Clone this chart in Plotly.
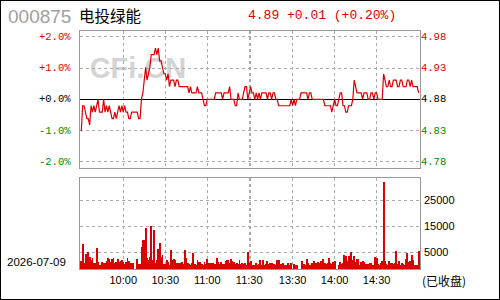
import plotly.graph_objects as go

# ---------------- data ----------------
stock_code = "000875"
stock_name = "电投绿能"
quote_text = "4.89 +0.01 (+0.20%)"
trade_date = "2026-07-09"
status_text = "(已收盘)"
base_price = 4.88  # previous close

# one price per trading minute (09:30-11:30, 13:00-15:00)
prices = [
    4.83, 4.87, 4.87, 4.86, 4.85, 4.85, 4.84, 4.87, 4.86, 4.87,
    4.86, 4.87, 4.88, 4.86, 4.86, 4.86, 4.88, 4.86, 4.87, 4.86,
    4.87, 4.86, 4.85, 4.85, 4.86, 4.85, 4.86, 4.87, 4.86, 4.87,
    4.86, 4.87, 4.86, 4.86, 4.85, 4.85, 4.86, 4.86, 4.86, 4.86,
    4.86, 4.85, 4.85, 4.88, 4.89, 4.91, 4.93, 4.91, 4.92, 4.93,
    4.95, 4.95, 4.95, 4.96, 4.95, 4.96, 4.94, 4.94, 4.93, 4.92,
    4.92, 4.91, 4.92, 4.90, 4.91, 4.91, 4.91, 4.90, 4.91, 4.91,
    4.90, 4.90, 4.90, 4.90, 4.90, 4.90, 4.90, 4.89, 4.90, 4.89,
    4.89, 4.89, 4.89, 4.90, 4.89, 4.89, 4.89, 4.88, 4.87, 4.87,
    4.88, 4.88, 4.88, 4.88, 4.88, 4.88, 4.89, 4.89, 4.89, 4.89,
    4.89, 4.88, 4.89, 4.89, 4.89, 4.89, 4.90, 4.88, 4.88, 4.88,
    4.87, 4.87, 4.89, 4.88, 4.88, 4.88, 4.89, 4.90, 4.90, 4.88,
    4.89, 4.90, 4.89, 4.89, 4.88, 4.89, 4.88, 4.89, 4.88, 4.89,
    4.89, 4.89, 4.89, 4.88, 4.89, 4.89, 4.88, 4.89, 4.89, 4.88,
    4.88, 4.87, 4.87, 4.87, 4.87, 4.87, 4.87, 4.87, 4.87, 4.87,
    4.88, 4.87, 4.88, 4.87, 4.88, 4.88, 4.88, 4.89, 4.89, 4.89,
    4.89, 4.89, 4.88, 4.89, 4.89, 4.88, 4.88, 4.88, 4.88, 4.88,
    4.88, 4.88, 4.88, 4.88, 4.87, 4.87, 4.87, 4.87, 4.87, 4.86,
    4.87, 4.88, 4.87, 4.87, 4.88, 4.89, 4.89, 4.87, 4.87, 4.86,
    4.86, 4.87, 4.87, 4.87, 4.88, 4.91, 4.90, 4.89, 4.89, 4.89,
    4.89, 4.88, 4.89, 4.89, 4.89, 4.88, 4.88, 4.89, 4.89, 4.88,
    4.89, 4.89, 4.88, 4.88, 4.88, 4.88, 4.92, 4.91, 4.90, 4.90,
    4.91, 4.90, 4.90, 4.91, 4.91, 4.91, 4.90, 4.90, 4.91, 4.91,
    4.90, 4.90, 4.90, 4.91, 4.91, 4.90, 4.91, 4.90, 4.90, 4.90,
    4.90, 4.89,
]

volumes = [
    3200, 9700, 2300, 5800, 5800, 6500, 4900, 3600, 4200, 2300,
    2300, 8200, 2700, 1700, 1700, 2700, 2300, 2300, 3200, 4200,
    3800, 3000, 3800, 4200, 2300, 3000, 3800, 3000, 3200, 3600,
    3000, 1900, 3000, 4200, 3200, 2300, 2300, 2300, 0, 0,
    4000, 1900, 1900, 8600, 11300, 11300, 15800, 4200, 3600, 4900,
    16700, 3600, 15100, 2300, 3600, 7800, 10000, 4900, 5500, 1900,
    1900, 3600, 3000, 1700, 7400, 3600, 4000, 3600, 2300, 2300,
    2300, 2300, 3000, 1900, 7400, 4200, 2300, 1900, 1700, 2300,
    6200, 1900, 1700, 3600, 3000, 2700, 1900, 1700, 2700, 1900,
    4000, 2300, 2300, 2300, 2300, 1900, 1900, 4500, 3000, 1900,
    3000, 1900, 1900, 3200, 3600, 3600, 2300, 4000, 3200, 3000,
    1900, 2300, 1900, 3600, 1900, 2300, 1900, 2300, 1700, 6500,
    2300, 3100, 1500, 1500, 1500, 2400, 1500, 2000, 3700, 1500,
    3700, 1500, 2000, 3300, 2000, 2400, 2400, 1500, 2000, 1500,
    3700, 3700, 1500, 2000, 2400, 1500, 1500, 1500, 2400, 1500,
    2400, 0, 2000, 1500, 1500, 0, 0, 0, 3300, 2000,
    1500, 4100, 2400, 1500, 1500, 2400, 3300, 2000, 2400, 2800,
    2400, 3100, 2000, 4100, 2400, 2000, 2400, 4300, 2400, 2000,
    2800, 3300, 0, 0, 1500, 2800, 2000, 2400, 5400, 5000,
    3300, 5000, 2400, 6700, 3700, 5000, 2800, 4000, 4000, 1500,
    2800, 3300, 2800, 2000, 2000, 2000, 2400, 2400, 1500, 1500,
    4600, 4300, 2000, 1500, 2400, 3100, 33600, 3300, 2000, 1500,
    3100, 2400, 2400, 2000, 2400, 6900, 2000, 3100, 1500, 2400,
    2000, 1500, 4100, 6300, 2800, 3100, 5400, 3700, 1500, 1500,
    1500, 7200,
]

time_tick_labels = ["10:00", "10:30", "11:00", "11:30", "13:00", "13:30", "14:00", "14:30"]
time_tick_shown = ["10:00", "10:30", "11:00", "11:30", "", "13:30", "14:00", "14:30"]

pct_ticks = [-2, -1, 0, 1, 2]
pct_labels = ["-2.0%", "-1.0%", "+0.0%", "+1.0%", "+2.0%"]
price_labels = ["4.78", "4.83", "4.88", "4.93", "4.98"]

vol_grid_vals = [6540, 16540, 26540]
vol_grid_labels = ["5000", "15000", "25000"]

# ---------------- derived ----------------
minutes = []
for h, m0, m1 in [(9, 30, 60), (10, 0, 60), (11, 0, 31), (13, 0, 60), (14, 0, 60), (15, 0, 1)]:
    for m in range(m0, m1):
        minutes.append(f"{h:02d}:{m:02d}")
idx = list(range(len(prices)))
pct = [(p / base_price - 1) * 100 for p in prices]
tick_idx = [minutes.index(t) for t in time_tick_labels]

RED = "#dd0000"
GREEN = "#008800"
GRID = "#aaaaaa"
FRAME = "#999999"
MONO = "Liberation Mono"
SANS = "Liberation Sans"
CJK = "Noto Sans CJK SC"


def lab_color(v):
    return RED if v > 0 else (GREEN if v < 0 else "black")


W, H = 500, 300
def px(x):
    return x / W
def py(y):
    return 1 - y / H

fig = go.Figure()
fig.add_trace(go.Scatter(x=idx, y=pct, mode="lines", line=dict(color=RED, width=1.2),
                         xaxis="x", yaxis="y", hoverinfo="skip"))
fig.add_trace(go.Bar(x=idx, y=volumes, marker=dict(color=RED, line=dict(width=0)), width=0.62,
                     xaxis="x2", yaxis="y2", hoverinfo="skip"))

axis_common = dict(showgrid=True, gridcolor=GRID, griddash="dot", gridwidth=1,
                   showline=True, mirror=True, linecolor=FRAME, linewidth=1, zeroline=False,
                   fixedrange=True)
xr = [-0.9, 242]
fig.update_layout(
    width=W, height=H, margin=dict(l=0, r=0, t=0, b=0),
    paper_bgcolor="white", plot_bgcolor="white", showlegend=False, bargap=0,
    xaxis=dict(domain=[px(80), px(420)], range=xr, anchor="y", tickvals=tick_idx,
               showticklabels=False, ticks="", **axis_common),
    yaxis=dict(domain=[py(168), py(31)], range=[-2.2, 2.19], anchor="x",
               tickvals=pct_ticks, showticklabels=False, ticks="",
               **{**axis_common, "zeroline": True}, zerolinecolor="black", zerolinewidth=1.2),
    xaxis2=dict(domain=[px(80), px(420)], range=xr, anchor="y2", tickvals=tick_idx,
                ticktext=time_tick_shown, ticks="", tickfont=dict(family=SANS, size=11, color="black"),
                **axis_common),
    yaxis2=dict(domain=[py(269.3), py(178)], range=[0, 35110], anchor="x2",
                tickvals=vol_grid_vals, showticklabels=False, ticks="", **axis_common),
)

ann = []
for v, lp, lv in zip(pct_ticks, pct_labels, price_labels):
    c = lab_color(v)
    ann.append(dict(x=px(73), xref="paper", y=v, yref="y", text=lp, showarrow=False,
                    xanchor="right", yanchor="middle", font=dict(family=MONO, size=10.5, color=c)))
    ann.append(dict(x=px(419), xref="paper", y=v, yref="y", text=lv, showarrow=False,
                    xanchor="left", yanchor="middle", font=dict(family=MONO, size=10.5, color=c)))
for v, t in zip(vol_grid_vals, vol_grid_labels):
    ann.append(dict(x=px(422), xref="paper", y=v, yref="y2", text=t, showarrow=False,
                    xanchor="left", yanchor="middle", font=dict(family=SANS, size=11, color="black")))
ann.append(dict(x=px(6), xref="paper", y=py(16), yref="paper", text=stock_code, showarrow=False,
                xanchor="left", yanchor="middle", font=dict(family=SANS, size=19, color="#a0a0a0")))
ann.append(dict(x=px(77), xref="paper", y=py(15), yref="paper", text=stock_name, showarrow=False,
                xanchor="left", yanchor="middle", font=dict(family=CJK, size=15.5, color="black")))
ann.append(dict(x=px(246), xref="paper", y=py(15), yref="paper", text=quote_text, showarrow=False,
                xanchor="left", yanchor="middle", font=dict(family=MONO, size=13, color=RED)))
ann.append(dict(x=px(5), xref="paper", y=py(262), yref="paper", text=trade_date, showarrow=False,
                xanchor="left", yanchor="middle", font=dict(family=SANS, size=11.5, color="black")))
ann.append(dict(x=px(420), xref="paper", y=py(280), yref="paper", text=status_text, showarrow=False,
                xanchor="left", yanchor="middle", font=dict(family=CJK, size=12, color="black")))
fig.update_layout(annotations=ann)

fig.update_layout(shapes=[
    dict(type="rect", xref="paper", yref="paper", x0=px(86), x1=px(190), y0=py(78), y1=py(52),
         line=dict(width=0), fillcolor="rgba(0,0,0,0)", layer="below",
         label=dict(text="<b>CFi.CN</b>", font=dict(family=SANS, size=29, color="#d4d4d4"),
                    textposition="middle center")),
    dict(type="rect", xref="paper", yref="paper", x0=0, x1=1, y0=0, y1=1,
         line=dict(color="black", width=2), layer="above"),
])

fig.write_html("out.html")
